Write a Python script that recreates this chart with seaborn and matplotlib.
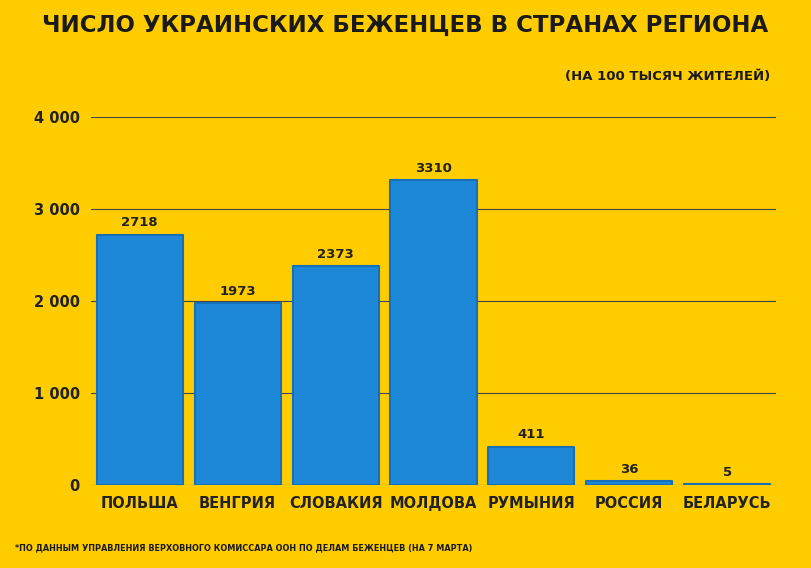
import matplotlib.pyplot as plt
import pandas as pd
import seaborn as sns

countries = ["ПОЛЬША", "ВЕНГРИЯ", "СЛОВАКИЯ", "МОЛДОВА", "РУМЫНИЯ", "РОССИЯ", "БЕЛАРУСЬ"]
refugees = [2718, 1973, 2373, 3310, 411, 36, 5]
yticks = [0, 1000, 2000, 3000, 4000]
ytick_labels = ["0", "1 000", "2 000", "3 000", "4 000"]

bg = "#FFCC00"
blue = "#1E88D8"
font = ["DejaVu Sans Condensed", "Liberation Sans Narrow", "DejaVu Sans"]

df = pd.DataFrame({"country": countries, "value": refugees})

sns.set_theme(style="white", rc={"font.family": font})
fig = plt.figure(figsize=(8.11, 5.68), dpi=100, facecolor=bg)
ax = fig.add_axes([0.112, 0.147, 0.845, 0.647])
ax.set_facecolor(bg)

sns.barplot(df, x="country", y="value", color=blue, width=0.88, ax=ax, zorder=3,
            saturation=1)
for p in ax.patches:
    p.set_edgecolor("#1570B8")
    p.set_linewidth(1.5)
    p.set_joinstyle("round")

for i, v in enumerate(refugees):
    ax.text(i, v + 60, str(v), ha="center", va="bottom", fontsize=9.5,
            fontweight="bold", color="#222222", zorder=4)

ax.set_ylim(0, 4000)
ax.set_xlim(-0.5, 6.5)
ax.set_yticks(yticks)
ax.set_yticklabels(ytick_labels, fontsize=10.5, fontweight="bold", color="#222222")
ax.tick_params(axis="x", labelsize=10.5, colors="#222222", length=0, pad=8)
for t in ax.get_xticklabels():
    t.set_fontweight("bold")
ax.tick_params(axis="y", length=0, pad=8)
ax.grid(axis="y", color="#444444", linewidth=0.8, zorder=0)
ax.set_xlabel("")
ax.set_ylabel("")
sns.despine(ax=ax, left=True, bottom=True)

fig.text(0.5, 0.955, "ЧИСЛО УКРАИНСКИХ БЕЖЕНЦЕВ В СТРАНАХ РЕГИОНА", ha="center",
         va="center", fontsize=16.5, fontweight="bold", color="#1a1a1a")
fig.text(0.95, 0.865, "(НА 100 ТЫСЯЧ ЖИТЕЛЕЙ)", ha="right", va="center",
         fontsize=9.5, fontweight="bold", color="#1a1a1a")
fig.text(0.018, 0.035, "*ПО ДАННЫМ УПРАВЛЕНИЯ ВЕРХОВНОГО КОМИССАРА ООН ПО ДЕЛАМ БЕЖЕНЦЕВ (НА 7 МАРТА)",
         ha="left", va="center", fontsize=5.9, fontweight="bold", color="#1a1a1a")

fig.savefig("out.png", dpi=100, facecolor=bg)
